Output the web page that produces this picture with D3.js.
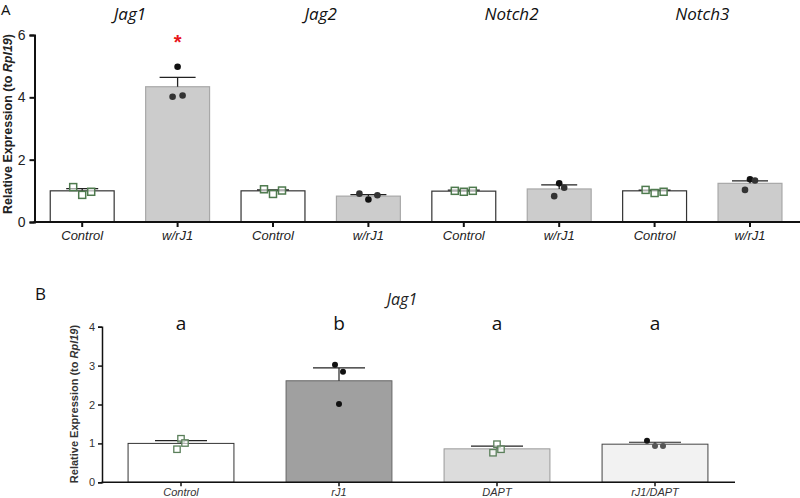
<!DOCTYPE html>
<html><head><meta charset="utf-8">
<script src="https://cdn.jsdelivr.net/npm/d3@7/dist/d3.min.js"></script>
<style>body{margin:0;background:#fff}svg{display:block}</style>
</head><body><svg id="c" width="800" height="498"></svg>
<script>
// ---------- Panel A data ----------
const genesA = ["Jag1","Jag2","Notch2","Notch3"];
const groupsA = ["Control","w/rJ1","Control","w/rJ1","Control","w/rJ1","Control","w/rJ1"];
const meansA = [1.0, 4.34, 1.0, 0.83, 0.99, 1.06, 1.0, 1.24];
const errTopA = [1.07, 4.64, 1.03, 0.88, 1.02, 1.19, 1.02, 1.32];
const pointsA = [
  [1.12, 0.87, 0.97],
  [4.02, 4.98, 4.06],
  [1.05, 0.90, 1.01],
  [0.91, 0.72, 0.86],
  [1.00, 0.97, 1.00],
  [0.83, 1.24, 1.10],
  [1.03, 0.93, 0.97],
  [1.03, 1.37, 1.33]
];
const ticksA = [0, 2, 4, 6];
const sigA = [null, "*", null, null, null, null, null, null];

// ---------- Panel B data ----------
const groupsB = ["Control","rJ1","DAPT","rJ1/DAPT"];
const meansB = [1.0, 2.61, 0.86, 0.98];
const errTopB = [1.07, 2.94, 0.93, 1.03];
const pointsB = [
  [0.85, 1.12, 1.01],
  [3.02, 2.01, 2.84],
  [0.76, 0.98, 0.85],
  [1.07, 0.93, 0.93]
];
const lettersB = ["a","b","a","a"];
const ticksB = [0, 1, 2, 3, 4];

const svg = d3.select("#c");
const FONT = "'Liberation Sans', Arial, sans-serif";
const SANS = "'Open Sans', sans-serif";
const fmt = d3.format("d");

// ================= Panel A =================
const A = svg.append("g");
const xA = d3.scaleBand().domain(d3.range(groupsA.length))
  .range([34.5, 797.7]).paddingInner(0.33).paddingOuter(0.165);
const yA = d3.scaleLinear().domain([0, 6]).range([222, 35]);
const fillA = i => i % 2 === 0 ? "#ffffff" : "#cccccc";
const strokeA = i => i % 2 === 0 ? "#333333" : "#a8a8a8";

A.append("g").selectAll("rect").data(meansA).join("rect")
  .attr("x", (d,i) => xA(i)).attr("width", xA.bandwidth())
  .attr("y", d => yA(d)).attr("height", d => yA(0) - yA(d))
  .attr("fill", (d,i) => fillA(i)).attr("stroke", (d,i) => strokeA(i)).attr("stroke-width", 1.2);

const eA = A.append("g").attr("stroke", "#222").attr("stroke-width", 1.3);
meansA.forEach((m, i) => {
  const cx = xA(i) + xA.bandwidth()/2;
  const half = i % 2 === 0 ? 16 : 18;
  eA.append("line").attr("x1", cx).attr("x2", cx).attr("y1", yA(m)).attr("y2", yA(errTopA[i]));
  eA.append("line").attr("x1", cx-half).attr("x2", cx+half).attr("y1", yA(errTopA[i])).attr("y2", yA(errTopA[i]));
});

pointsA.forEach((pts, i) => {
  const cx = xA(i) + xA.bandwidth()/2;
  const spread = i % 2 === 0 ? 9 : (i === 3 ? 9 : 5);
  pts.forEach((v, j) => {
    const px = cx + (j - 1) * spread;
    if (i % 2 === 0) {
      A.append("rect").attr("x", px - 3.5).attr("y", yA(v) - 3.5).attr("width", 7).attr("height", 7)
        .attr("fill", "#ffffff").attr("fill-opacity", 0.6).attr("stroke", "#4e7a4e").attr("stroke-width", 1.5);
    } else {
      A.append("circle").attr("cx", px).attr("cy", yA(v)).attr("r", 3.3).attr("fill", j === 1 ? "#111" : "#333");
    }
  });
});

sigA.forEach((s, i) => {
  if (!s) return;
  A.append("text").attr("x", xA(i) + xA.bandwidth()/2).attr("y", yA(5.55))
    .attr("text-anchor", "middle").attr("fill", "#e8141b").attr("font-family", FONT)
    .attr("font-size", 20).attr("font-weight", "bold").text(s);
});

const axL = A.append("g").attr("transform", "translate(34.5,0)")
  .call(d3.axisLeft(yA).tickValues(ticksA).tickFormat(fmt).tickSize(5).tickPadding(4));
axL.select(".domain").attr("stroke", "#111").attr("stroke-width", 2);
axL.selectAll(".tick line").attr("stroke", "#111").attr("stroke-width", 2);
axL.selectAll("text").attr("font-family", FONT).attr("font-size", 14).attr("fill", "#222");

const axB = A.append("g").attr("transform", "translate(0,222)")
  .call(d3.axisBottom(xA).tickSize(5).tickPadding(4).tickFormat(i => groupsA[i]));
axB.select(".domain").attr("d", "M33.5,0H800").attr("stroke", "#111").attr("stroke-width", 2);
axB.selectAll(".tick line").attr("stroke", "#111").attr("stroke-width", 2);
axB.selectAll("text").attr("font-family", FONT).attr("font-size", 13).attr("font-style", "italic").attr("fill", "#222");

genesA.forEach((g, k) => {
  const c = (xA(2*k) + xA(2*k+1) + xA.bandwidth()) / 2;
  A.append("text").attr("x", c).attr("y", 20).attr("text-anchor", "middle")
    .attr("font-family", SANS).attr("font-size", 17).attr("font-style", "italic").attr("fill", "#111").text(g);
});

A.append("text").attr("transform", "translate(12,124) rotate(-90)").attr("text-anchor", "middle")
  .attr("font-family", FONT).attr("font-size", 12.5).attr("font-weight", "bold").attr("fill", "#222")
  .call(t => { t.append("tspan").text("Relative Expression (to ");
               t.append("tspan").attr("font-style", "italic").text("Rpl19");
               t.append("tspan").text(")"); });
A.append("text").attr("x", 1).attr("y", 15).attr("font-family", SANS).attr("font-size", 15).attr("fill", "#111").text("A");

// ================= Panel B =================
const B = svg.append("g");
const xB = d3.scaleBand().domain(d3.range(groupsB.length))
  .range([102, 734]).paddingInner(0.33).paddingOuter(0.165);
const yB = d3.scaleLinear().domain([0, 4]).range([482.3, 326.7]);
const fillB = ["#ffffff", "#a0a0a0", "#dcdcdc", "#f2f2f2"];
const strokeB = ["#333333", "#666666", "#999999", "#444444"];

B.append("g").selectAll("rect").data(meansB).join("rect")
  .attr("x", (d,i) => xB(i)).attr("width", xB.bandwidth())
  .attr("y", d => yB(d)).attr("height", d => yB(0) - yB(d))
  .attr("fill", (d,i) => fillB[i]).attr("stroke", (d,i) => strokeB[i]).attr("stroke-width", 1);

const eB = B.append("g").attr("stroke", "#222").attr("stroke-width", 1.2);
meansB.forEach((m, i) => {
  const cx = xB(i) + xB.bandwidth()/2;
  eB.append("line").attr("x1", cx).attr("x2", cx).attr("y1", yB(m)).attr("y2", yB(errTopB[i]));
  eB.append("line").attr("x1", cx-26).attr("x2", cx+26).attr("y1", yB(errTopB[i])).attr("y2", yB(errTopB[i]));
});

pointsB.forEach((pts, i) => {
  const cx = xB(i) + xB.bandwidth()/2;
  const spread = (i === 3) ? 8 : 4;
  pts.forEach((v, j) => {
    const px = cx + (j - 1) * spread;
    if (i % 2 === 0) {
      B.append("rect").attr("x", px - 3.2).attr("y", yB(v) - 3.2).attr("width", 6.4).attr("height", 6.4)
        .attr("fill", "#ffffff").attr("fill-opacity", 0.6).attr("stroke", "#5a7f5a").attr("stroke-width", 1.3);
    } else {
      B.append("circle").attr("cx", px).attr("cy", yB(v)).attr("r", 3).attr("fill", (i===3 && j>0) ? "#555" : "#111");
    }
  });
});

lettersB.forEach((l, i) => {
  B.append("text").attr("x", xB(i) + xB.bandwidth()/2).attr("y", 330).attr("text-anchor", "middle")
    .attr("font-family", SANS).attr("font-size", 19).attr("fill", "#111").text(l);
});

const bxL = B.append("g").attr("transform", "translate(102,0)")
  .call(d3.axisLeft(yB).tickValues(ticksB).tickFormat(fmt).tickSize(4).tickPadding(3));
bxL.select(".domain").attr("stroke", "#111").attr("stroke-width", 1.5);
bxL.selectAll(".tick line").attr("stroke", "#111").attr("stroke-width", 1.5);
bxL.selectAll("text").attr("font-family", FONT).attr("font-size", 11).attr("fill", "#333");

const bxB = B.append("g").attr("transform", "translate(0,482.3)")
  .call(d3.axisBottom(xB).tickSize(4).tickPadding(2).tickFormat(i => groupsB[i]));
bxB.select(".domain").attr("d", "M101.5,0H735").attr("stroke", "#111").attr("stroke-width", 1.5);
bxB.selectAll(".tick line").attr("stroke", "#111").attr("stroke-width", 1.5);
bxB.selectAll("text").attr("font-family", FONT).attr("font-size", 11).attr("font-style", "italic").attr("fill", "#333");

B.append("text").attr("x", 402).attr("y", 305).attr("text-anchor", "middle")
  .attr("font-family", SANS).attr("font-size", 16).attr("font-style", "italic").attr("fill", "#222").text("Jag1");
B.append("text").attr("transform", "translate(78,404) rotate(-90)").attr("text-anchor", "middle")
  .attr("font-family", FONT).attr("font-size", 11).attr("font-weight", "bold").attr("fill", "#333")
  .call(t => { t.append("tspan").text("Relative Expression (to ");
               t.append("tspan").attr("font-style", "italic").text("Rpl19");
               t.append("tspan").text(")"); });
B.append("text").attr("x", 35).attr("y", 300).attr("font-family", SANS).attr("font-size", 17).attr("fill", "#111").text("B");
</script></body></html>
